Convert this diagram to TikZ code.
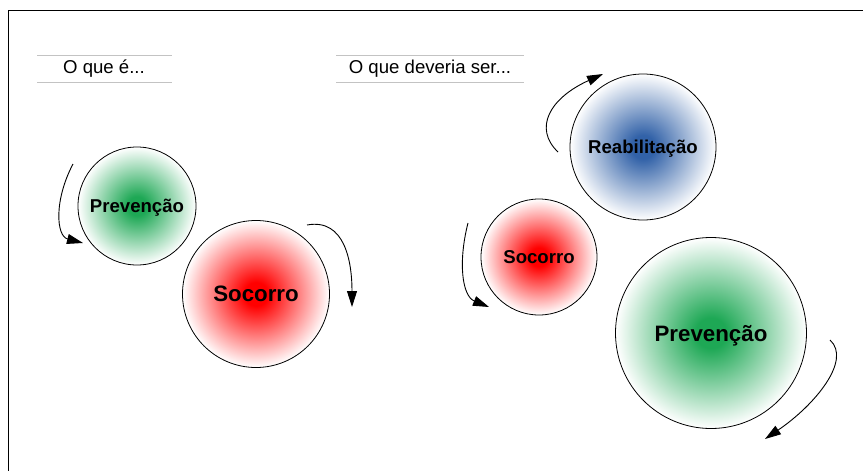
\documentclass[tikz,border=0pt]{standalone}
\usepackage{fontspec}
\setmainfont{Liberation Sans}
\usetikzlibrary{arrows.meta}
\definecolor{cgreen}{RGB}{30,168,85}
\definecolor{cred}{RGB}{255,0,0}
\definecolor{cblue}{RGB}{50,98,168}
\definecolor{rulegray}{RGB}{195,195,195}
\pgfdeclareradialshading{gshade}{\pgfpoint{0bp}{0bp}}{color(0bp)=(cgreen); color(4bp)=(cgreen); color(25bp)=(white); color(50bp)=(white)}
\pgfdeclareradialshading{rshade}{\pgfpoint{0bp}{0bp}}{color(0bp)=(cred); color(4bp)=(cred); color(25bp)=(white); color(50bp)=(white)}
\pgfdeclareradialshading{bshade}{\pgfpoint{0bp}{0bp}}{color(0bp)=(cblue); color(4bp)=(cblue); color(25bp)=(white); color(50bp)=(white)}
\tikzset{
  ball/.style={circle, draw=black, line width=0.8pt, inner sep=0pt, text depth=0pt, shading=#1},
  small/.style={minimum size=#1, font=\fontsize{18.6}{20}\selectfont\bfseries},
  big/.style={minimum size=#1, font=\fontsize{22.3}{24}\selectfont\bfseries},
  turn/.style={line width=0.9pt, -{Triangle[length=16pt,width=10pt]}},
  titletext/.style={font=\fontsize{18.6}{20}\selectfont},
  titlerule/.style={draw=rulegray, line width=0.9pt}
}
\begin{document}
\begin{tikzpicture}[x=1pt,y=-1pt]
\useasboundingbox (0,0) rectangle (863,471);
% frame
\coordinate (f1) at (8,471);
\coordinate (f2) at (8,10);
\coordinate (f3) at (863,10);
\draw[line width=1pt] (f1) -- (f2) -- (f3);
% titles
\coordinate (ta1) at (37,55); \coordinate (ta2) at (172,55);
\coordinate (tb1) at (37,82); \coordinate (tb2) at (172,82);
\draw[titlerule] (ta1) -- (ta2); \draw[titlerule] (tb1) -- (tb2);
\node[titletext] (t1) at (104,69) {O que é...};
\coordinate (tc1) at (336,55); \coordinate (tc2) at (524,55);
\coordinate (td1) at (336,82); \coordinate (td2) at (524,82);
\draw[titlerule] (tc1) -- (tc2); \draw[titlerule] (td1) -- (td2);
\node[titletext] (t2) at (430,69) {O que deveria ser...};
% left circles
\node[ball=gshade, small=118pt] (prevL) at (137,206) {Prevenção};
\node[ball=rshade, big=147pt] (socL) at (256,294) {Socorro};
% right circles
\node[ball=bshade, small=146pt] (reab) at (643,147) {Reabilitação};
\node[ball=rshade, small=116pt] (socR) at (539,257) {Socorro};
\node[ball=gshade, big=191pt] (prevR) at (711,333) {Prevenção};
% arrows
\coordinate (a1s) at (73,164); \coordinate (a1e) at (83,243);
\draw[turn] (a1s) .. controls (54,200) and (56,236) .. (a1e);
\coordinate (a2s) at (307,225); \coordinate (a2e) at (352,307);
\draw[turn] (a2s) .. controls (345,218) and (352,262) .. (a2e);
\coordinate (a3s) at (558,152); \coordinate (a3e) at (603,74);
\draw[turn] (a3s) .. controls (533,128) and (550,98) .. (a3e);
\coordinate (a4s) at (468,223); \coordinate (a4e) at (489,307);
\draw[turn] (a4s) .. controls (458,262) and (462,296) .. (a4e);
\coordinate (a5s) at (830,340); \coordinate (a5e) at (765,439);
\draw[turn] (a5s) .. controls (852,360) and (815,405) .. (a5e);
\end{tikzpicture}
\end{document}
